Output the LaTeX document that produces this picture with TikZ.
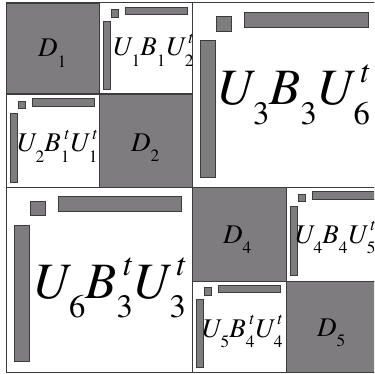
\documentclass[tikz,border=0pt]{standalone}
\usepackage[T1]{fontenc}
\usepackage{mathptmx}
\usepackage{graphicx}
\definecolor{blk}{HTML}{7F7C80}
\definecolor{edge}{HTML}{3C3C3C}
\newcommand\lo[1]{\raisebox{-0.38em}{\scalebox{0.64}{#1}}}
\newcommand\lohi[2]{\rlap{\kern0.12em\raisebox{0.45em}{\scalebox{0.64}{\itshape #2}}}\raisebox{-0.38em}{\scalebox{0.64}{#1}}}
\newcommand\I[1]{{\itshape #1}}
\newcommand\offb[4]{%
  \draw[gbar] ({#1+0.13*#3},{#2+0.075*#4}) rectangle ({#1+0.21*#3},{#2+0.155*#4});
  \draw[gbar] ({#1+0.28*#3},{#2+0.05*#4}) rectangle ({#1+0.945*#3},{#2+0.13*#4});
  \draw[gbar] ({#1+0.045*#3},{#2+0.205*#4}) rectangle ({#1+0.125*#3},{#2+0.945*#4});
}
\begin{document}
\begin{tikzpicture}[x=1pt,y=-1pt,
  dblk/.style={fill=blk, draw=edge, line width=0.8pt},
  gbar/.style={fill=blk, draw=edge, line width=0.7pt},
  frm/.style={draw=edge, line width=1pt},
  lbl/.style={inner sep=0pt, anchor=base west},
  sm/.style={lbl, font=\fontsize{27}{30}\selectfont},
  bg/.style={lbl, font=\fontsize{51}{56}\selectfont}]
\useasboundingbox (0,0) rectangle (374,374);
\clip (0,0) rectangle (374,374);
\fill[white] (0,0) rectangle (374,374);
% diagonal dark blocks
\draw[dblk] (6,3) rectangle (99,94);
\draw[dblk] (99,94) rectangle (192,187);
\draw[dblk] (192,187) rectangle (286,281);
\draw[dblk] (286,281) rectangle (379,372);
% off-diagonal blocks
\draw[frm] (99,3) rectangle (192,94);
\draw[frm] (6,94) rectangle (99,187);
\draw[frm] (286,187) rectangle (379,281);
\draw[frm] (192,281) rectangle (286,372);
\draw[frm] (192,3) rectangle (379,187);
\draw[frm] (6,187) rectangle (192,372);
\draw[frm] (6,3) rectangle (379,372);
\offb{99}{3}{93}{91}
\offb{6}{94}{93}{93}
\offb{286}{187}{93}{94}
\offb{192}{281}{94}{91}
\offb{192}{3}{187}{184}
\offb{6}{187}{186}{185}
% labels
\node[sm] (d1) at (38,57) {\I{D}\lo{1}};
\node[sm] (d2) at (131,151) {\I{D}\lo{2}};
\node[sm] (d4) at (223,243) {\I{D}\lo{4}};
\node[sm] (d5) at (317,336) {\I{D}\lo{5}};
\node[sm] (a12) at (112,56) {\I{U}\lo{1}\I{B}\lo{1}\I{U}\lohi{2}{t}};
\node[sm] (a21) at (16,152) {\I{U}\lo{2}\I{B}\lohi{1}{t}\I{U}\lohi{1}{t}};
\node[sm] (a45) at (294,243) {\I{U}\lo{4}\I{B}\lo{4}\I{U}\lohi{5}{t}};
\node[sm] (a54) at (201,337) {\I{U}\lo{5}\I{B}\lohi{4}{t}\I{U}\lohi{4}{t}};
\node[bg] (a36) at (216,105) {\I{U}\lo{3}\I{B}\lo{3}\I{U}\lohi{6}{t}};
\node[bg] (a63) at (32,298) {\I{U}\lo{6}\I{B}\lohi{3}{t}\I{U}\lohi{3}{t}};
\end{tikzpicture}
\end{document}
